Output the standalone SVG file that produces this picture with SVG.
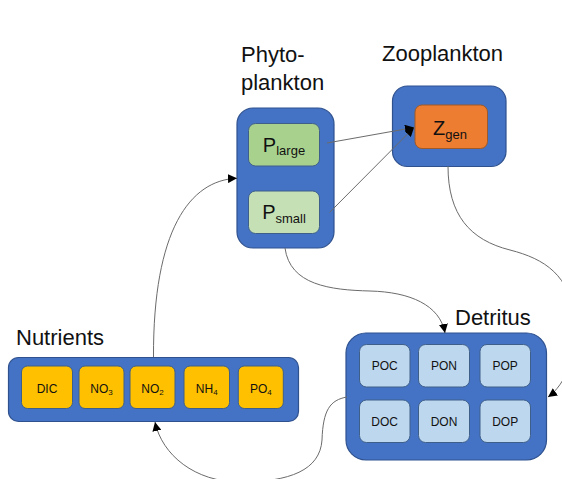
<svg xmlns="http://www.w3.org/2000/svg" width="562" height="479" viewBox="0 0 562 479">
<style>
.lbl{font-family:"Liberation Sans",Arial,sans-serif;font-size:22px;fill:#111}
.grp{fill:#4472C4;stroke:#2F528F;stroke-width:1.2}
.in{stroke:#3E5F8A;stroke-width:1}
.nut{fill:#FFC000}
.det{fill:#BDD7EE}
.t12{font-family:"Liberation Sans",Arial,sans-serif;font-size:12px;fill:#111;text-anchor:middle}
.t20{font-family:"Liberation Sans",Arial,sans-serif;font-size:20px;fill:#111;text-anchor:middle}
.con{fill:none;stroke:#6b6b6b;stroke-width:1}
</style>
<defs>
<marker id="arr" viewBox="0 0 10 10" refX="10" refY="5" markerWidth="9" markerHeight="9" markerUnits="userSpaceOnUse" orient="auto">
<path d="M0,0 L10,5 L0,10 z" fill="#000"/>
</marker>
</defs>
<rect width="562" height="479" fill="#fff"/>

<g id="phytoplankton">
<text class="lbl" x="241" y="62">Phyto-</text>
<text class="lbl" x="241" y="90">plankton</text>
<rect class="grp" x="237" y="108" width="97" height="140" rx="16"/>
<g id="p_large">
<rect class="in" x="248.5" y="123.5" width="71" height="42.5" rx="7" fill="#A9D18E"/>
<text class="t20" x="284" y="152">P<tspan font-size="13" dy="3">large</tspan></text>
</g>
<g id="p_small">
<rect class="in" x="248.5" y="191" width="71" height="42.5" rx="7" fill="#C5E0B4"/>
<text class="t20" x="284" y="219">P<tspan font-size="13" dy="4">small</tspan></text>
</g>
</g>

<g id="zooplankton">
<text class="lbl" x="382" y="61">Zooplankton</text>
<rect class="grp" x="392.5" y="86" width="113.5" height="80.5" rx="15"/>
<g id="z_gen">
<rect x="415" y="105" width="72.5" height="43.5" rx="7" fill="#ED7D31" stroke="#9C5A2A" stroke-width="1"/>
<text class="t20" x="450" y="135">Z<tspan font-size="13" dy="4">gen</tspan></text>
</g>
</g>

<g id="nutrients">
<text class="lbl" x="16" y="345">Nutrients</text>
<rect class="grp" x="8.5" y="357.5" width="290" height="64" rx="10"/>
<g id="dic"><rect class="in nut" x="21.5" y="366" width="51" height="42.5" rx="6"/><text class="t12" x="47" y="393">DIC</text></g>
<g id="no3"><rect class="in nut" x="79" y="366" width="45" height="42.5" rx="6"/><text class="t12" x="101.5" y="393">NO<tspan font-size="8" dy="2">3</tspan></text></g>
<g id="no2"><rect class="in nut" x="130" y="366" width="45" height="42.5" rx="6"/><text class="t12" x="152.5" y="393">NO<tspan font-size="8" dy="2">2</tspan></text></g>
<g id="nh4"><rect class="in nut" x="184" y="366" width="45.5" height="42.5" rx="6"/><text class="t12" x="206.7" y="393">NH<tspan font-size="8" dy="2">4</tspan></text></g>
<g id="po4"><rect class="in nut" x="238.3" y="366" width="45" height="42.5" rx="6"/><text class="t12" x="260.8" y="393">PO<tspan font-size="8" dy="2">4</tspan></text></g>
</g>

<g id="detritus">
<text class="lbl" x="455" y="325">Detritus</text>
<rect class="grp" x="346" y="333" width="200.5" height="127" rx="20"/>
<g id="poc"><rect class="in det" x="359.5" y="344.5" width="50.5" height="42.5" rx="7"/><text class="t12" x="384.7" y="370">POC</text></g>
<g id="pon"><rect class="in det" x="418.5" y="344.5" width="51" height="42.5" rx="7"/><text class="t12" x="444" y="370">PON</text></g>
<g id="pop"><rect class="in det" x="480" y="344.5" width="50.5" height="42.5" rx="7"/><text class="t12" x="505.2" y="370">POP</text></g>
<g id="doc"><rect class="in det" x="359.5" y="400" width="50.5" height="42.5" rx="7"/><text class="t12" x="384.7" y="426">DOC</text></g>
<g id="don"><rect class="in det" x="418.5" y="400" width="51" height="42.5" rx="7"/><text class="t12" x="444" y="426">DON</text></g>
<g id="dop"><rect class="in det" x="480" y="400" width="50.5" height="42.5" rx="7"/><text class="t12" x="505.2" y="426">DOP</text></g>
</g>

<g id="connectors">
<path class="con" d="M153.5,357 C153,230 190,180 237,178.3" marker-end="url(#arr)"/>
<path class="con" stroke="#444" d="M327,143 L414,127.5" marker-end="url(#arr)"/>
<path class="con" stroke="#444" d="M329.5,212.5 L414,127.5" marker-end="url(#arr)"/>
<path class="con" d="M285,248 C290,285 330,290 370,291 C410,292 440,305 445,333" marker-end="url(#arr)"/>
<path class="con" d="M448,166 C448,215 470,240 510,250 C545,259 570,275 575,320 C578,355 565,385 548,397" marker-end="url(#arr)"/>
<path class="con" d="M347,397 C330,400 323,410 322,440 C320,470 290,482 240,482 C195,482 162,455 155,422" marker-end="url(#arr)"/>
</g>
</svg>
